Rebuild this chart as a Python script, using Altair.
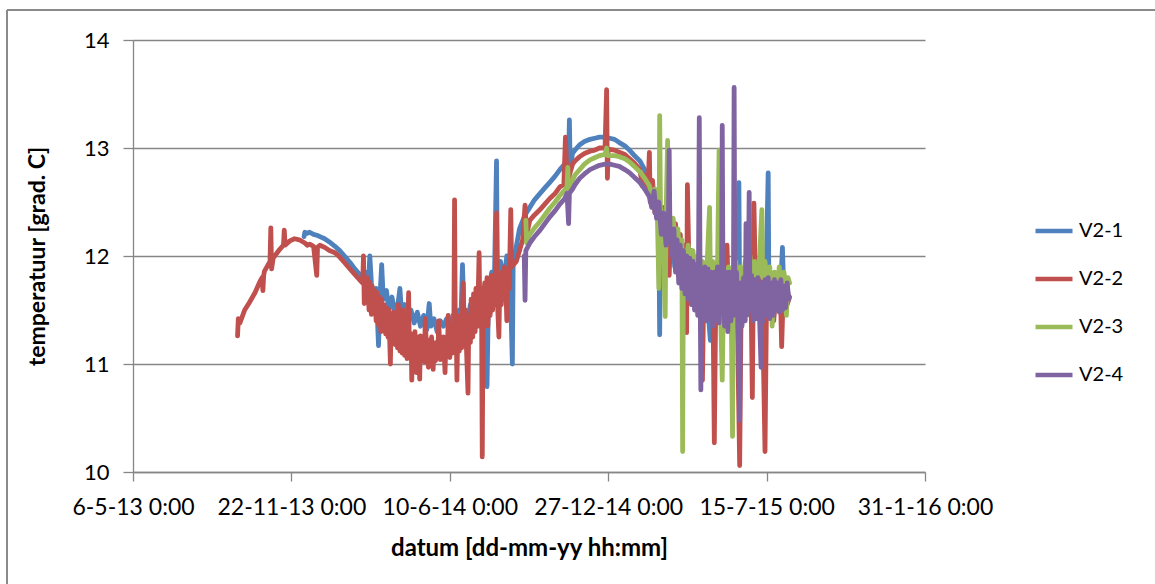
import altair as alt
import pandas as pd

# Temperature logger readings per monitoring well (date, temperature in deg C)
V2_1 = [
    ("2013-12-08", 12.18), ("2013-12-09", 12.22), ("2013-12-12", 12.21), ("2013-12-15", 12.22),
    ("2013-12-20", 12.20), ("2013-12-25", 12.19), ("2013-12-28", 12.18), ("2014-01-03", 12.16),
    ("2014-01-09", 12.13), ("2014-01-16", 12.09), ("2014-01-22", 12.05), ("2014-01-28", 12.00),
    ("2014-02-04", 11.94), ("2014-02-10", 11.88), ("2014-02-16", 11.83), ("2014-02-22", 11.80),
    ("2014-02-24", 11.85), ("2014-02-27", 11.70), ("2014-03-01", 12.00), ("2014-03-03", 11.75),
    ("2014-03-06", 11.55), ("2014-03-09", 11.70), ("2014-03-12", 11.17), ("2014-03-14", 11.65),
    ("2014-03-16", 11.92), ("2014-03-18", 11.60), ("2014-03-22", 11.68), ("2014-03-25", 11.50),
    ("2014-03-29", 11.62), ("2014-04-02", 11.45), ("2014-04-06", 11.58), ("2014-04-08", 11.70),
    ("2014-04-10", 11.48), ("2014-04-14", 11.55), ("2014-04-18", 11.40), ("2014-04-22", 11.50),
    ("2014-04-26", 11.38), ("2014-04-30", 11.48), ("2014-05-04", 11.35), ("2014-05-08", 11.45),
    ("2014-05-12", 11.32), ("2014-05-15", 11.56), ("2014-05-17", 11.35), ("2014-05-21", 11.42),
    ("2014-05-25", 11.30), ("2014-05-29", 11.40), ("2014-06-02", 11.35), ("2014-06-06", 11.42),
    ("2014-06-10", 11.30), ("2014-06-14", 11.45), ("2014-06-18", 11.35), ("2014-06-22", 11.50),
    ("2014-06-24", 11.40), ("2014-06-26", 11.92), ("2014-06-28", 11.45), ("2014-07-02", 11.35),
    ("2014-07-06", 11.55), ("2014-07-10", 11.40), ("2014-07-14", 11.65), ("2014-07-18", 11.50),
    ("2014-07-24", 11.60), ("2014-07-27", 10.79), ("2014-07-29", 11.70), ("2014-08-02", 11.85),
    ("2014-08-05", 11.65), ("2014-08-08", 12.88), ("2014-08-09", 11.80), ("2014-08-13", 11.95),
    ("2014-08-17", 11.75), ("2014-08-21", 12.00), ("2014-08-25", 11.85), ("2014-08-28", 11.00),
    ("2014-08-29", 11.95), ("2014-09-01", 12.05), ("2014-09-06", 12.25), ("2014-09-13", 12.38),
    ("2014-09-19", 12.45), ("2014-09-25", 12.52), ("2014-10-02", 12.58), ("2014-10-08", 12.63),
    ("2014-10-14", 12.68), ("2014-10-21", 12.74), ("2014-10-27", 12.80), ("2014-11-02", 12.85),
    ("2014-11-07", 12.90), ("2014-11-08", 13.26), ("2014-11-09", 12.82), ("2014-11-12", 12.95),
    ("2014-11-15", 12.98), ("2014-11-21", 13.03), ("2014-11-27", 13.06), ("2014-12-04", 13.08),
    ("2014-12-10", 13.09), ("2014-12-16", 13.10), ("2014-12-23", 13.10), ("2014-12-29", 13.09),
    ("2015-01-04", 13.08), ("2015-01-10", 13.05), ("2015-01-17", 13.02), ("2015-01-23", 12.98),
    ("2015-01-29", 12.93), ("2015-02-05", 12.88), ("2015-02-11", 12.80), ("2015-02-14", 12.70),
    ("2015-02-17", 12.55), ("2015-02-20", 12.65), ("2015-02-24", 12.40), ("2015-02-27", 12.55),
    ("2015-03-01", 12.20), ("2015-03-02", 11.27), ("2015-03-03", 12.30), ("2015-03-06", 12.45),
    ("2015-03-09", 12.15), ("2015-03-12", 12.35), ("2015-03-15", 12.00), ("2015-03-18", 12.25),
    ("2015-03-21", 11.90), ("2015-03-24", 12.15), ("2015-03-27", 11.85), ("2015-03-30", 12.10),
    ("2015-04-02", 11.80), ("2015-04-05", 12.05), ("2015-04-08", 11.70), ("2015-04-11", 11.95),
    ("2015-04-14", 11.65), ("2015-04-17", 11.90), ("2015-04-20", 11.60), ("2015-04-23", 11.85),
    ("2015-04-26", 11.55), ("2015-04-29", 11.80), ("2015-05-02", 11.50), ("2015-05-05", 11.22),
    ("2015-05-08", 11.45), ("2015-05-11", 11.70), ("2015-05-14", 11.40), ("2015-05-17", 11.70),
    ("2015-05-20", 11.50), ("2015-05-23", 11.75), ("2015-05-26", 11.40), ("2015-05-29", 11.70),
    ("2015-06-01", 11.45), ("2015-06-04", 11.70), ("2015-06-07", 11.50), ("2015-06-10", 12.68),
    ("2015-06-11", 11.55), ("2015-06-14", 11.75), ("2015-06-17", 11.45), ("2015-06-20", 11.70),
    ("2015-06-23", 11.50), ("2015-06-26", 11.75), ("2015-06-29", 11.45), ("2015-07-02", 11.70),
    ("2015-07-05", 11.55), ("2015-07-08", 11.75), ("2015-07-09", 10.97), ("2015-07-11", 11.50),
    ("2015-07-14", 11.70), ("2015-07-17", 12.77), ("2015-07-18", 11.55), ("2015-07-21", 11.70),
    ("2015-07-24", 11.45), ("2015-07-27", 11.65), ("2015-07-30", 11.55), ("2015-08-02", 11.75),
    ("2015-08-04", 12.08), ("2015-08-06", 11.60), ("2015-08-09", 11.75), ("2015-08-12", 11.60),
]

V2_2 = [
    ("2013-09-15", 11.26), ("2013-09-16", 11.42), ("2013-09-18", 11.38), ("2013-09-24", 11.50),
    ("2013-09-30", 11.57), ("2013-10-07", 11.66), ("2013-10-13", 11.76), ("2013-10-16", 11.80),
    ("2013-10-17", 11.68), ("2013-10-18", 11.82), ("2013-10-19", 11.86), ("2013-10-26", 11.95),
    ("2013-10-27", 12.26), ("2013-10-28", 11.88), ("2013-10-30", 11.98), ("2013-11-07", 12.06),
    ("2013-11-12", 12.10), ("2013-11-13", 12.24), ("2013-11-14", 12.10), ("2013-11-20", 12.14),
    ("2013-11-26", 12.16), ("2013-12-02", 12.15), ("2013-12-09", 12.12), ("2013-12-12", 12.10),
    ("2013-12-15", 12.11), ("2013-12-20", 12.09), ("2013-12-24", 11.82), ("2013-12-25", 12.08),
    ("2013-12-28", 12.10), ("2014-01-03", 12.08), ("2014-01-09", 12.05), ("2014-01-16", 12.03),
    ("2014-01-22", 11.99), ("2014-01-28", 11.94), ("2014-02-04", 11.88), ("2014-02-10", 11.83),
    ("2014-02-16", 11.78), ("2014-02-20", 11.75), ("2014-02-21", 12.00), ("2014-02-22", 11.56),
    ("2014-02-23", 11.78), ("2014-02-25", 11.60), ("2014-02-26", 11.80), ("2014-02-28", 11.50),
    ("2014-03-01", 11.76), ("2014-03-03", 11.46), ("2014-03-04", 11.72), ("2014-03-06", 11.50),
    ("2014-03-07", 11.68), ("2014-03-09", 11.40), ("2014-03-10", 11.66), ("2014-03-12", 11.36),
    ("2014-03-13", 11.62), ("2014-03-15", 11.30), ("2014-03-16", 11.60), ("2014-03-18", 11.32),
    ("2014-03-19", 11.55), ("2014-03-21", 11.28), ("2014-03-22", 11.52), ("2014-03-24", 11.25),
    ("2014-03-25", 11.50), ("2014-03-27", 11.00), ("2014-03-28", 11.46), ("2014-03-30", 11.22),
    ("2014-03-31", 11.48), ("2014-04-02", 11.18), ("2014-04-03", 11.42), ("2014-04-05", 11.15),
    ("2014-04-06", 11.55), ("2014-04-08", 11.12), ("2014-04-09", 11.38), ("2014-04-11", 11.10),
    ("2014-04-12", 11.50), ("2014-04-14", 11.08), ("2014-04-15", 11.32), ("2014-04-17", 11.05),
    ("2014-04-18", 11.30), ("2014-04-19", 11.66), ("2014-04-20", 11.10), ("2014-04-22", 11.28),
    ("2014-04-23", 10.85), ("2014-04-24", 11.26), ("2014-04-26", 11.05), ("2014-04-27", 11.30),
    ("2014-04-29", 10.92), ("2014-04-30", 11.25), ("2014-05-02", 11.02), ("2014-05-03", 10.86),
    ("2014-05-04", 11.26), ("2014-05-06", 11.04), ("2014-05-07", 11.22), ("2014-05-09", 11.02),
    ("2014-05-10", 11.42), ("2014-05-12", 11.05), ("2014-05-13", 11.20), ("2014-05-14", 10.97),
    ("2014-05-15", 11.22), ("2014-05-17", 11.04), ("2014-05-18", 11.25), ("2014-05-20", 10.95),
    ("2014-05-21", 11.18), ("2014-05-23", 11.03), ("2014-05-24", 11.20), ("2014-05-26", 11.06),
    ("2014-05-27", 11.40), ("2014-05-29", 11.04), ("2014-05-30", 11.18), ("2014-06-01", 11.06),
    ("2014-06-02", 11.25), ("2014-06-04", 10.92), ("2014-06-05", 11.22), ("2014-06-07", 11.08),
    ("2014-06-08", 11.45), ("2014-06-10", 11.06), ("2014-06-11", 11.30), ("2014-06-13", 11.10),
    ("2014-06-14", 11.35), ("2014-06-15", 11.15), ("2014-06-16", 12.52), ("2014-06-17", 11.20),
    ("2014-06-18", 11.40), ("2014-06-19", 10.85), ("2014-06-20", 11.30), ("2014-06-22", 11.12),
    ("2014-06-23", 11.45), ("2014-06-25", 11.15), ("2014-06-26", 11.50), ("2014-06-27", 11.75),
    ("2014-06-28", 11.20), ("2014-06-30", 11.50), ("2014-07-01", 11.15), ("2014-07-03", 10.73),
    ("2014-07-04", 11.45), ("2014-07-06", 11.20), ("2014-07-07", 11.60), ("2014-07-09", 11.25),
    ("2014-07-10", 11.65), ("2014-07-12", 11.30), ("2014-07-13", 11.70), ("2014-07-15", 11.35),
    ("2014-07-17", 12.03), ("2014-07-18", 11.45), ("2014-07-20", 11.70), ("2014-07-21", 10.14),
    ("2014-07-22", 11.45), ("2014-07-24", 11.75), ("2014-07-25", 11.40), ("2014-07-27", 11.80),
    ("2014-07-28", 11.35), ("2014-07-30", 11.70), ("2014-07-31", 11.45), ("2014-08-02", 11.82),
    ("2014-08-03", 11.50), ("2014-08-05", 11.78), ("2014-08-06", 11.55), ("2014-08-08", 12.40),
    ("2014-08-09", 11.60), ("2014-08-11", 11.25), ("2014-08-12", 11.70), ("2014-08-14", 11.55),
    ("2014-08-15", 11.85), ("2014-08-17", 11.60), ("2014-08-18", 11.90), ("2014-08-20", 11.65),
    ("2014-08-21", 11.40), ("2014-08-22", 11.85), ("2014-08-24", 11.70), ("2014-08-26", 12.43),
    ("2014-08-27", 11.90), ("2014-09-02", 11.95), ("2014-09-06", 12.05), ("2014-09-10", 12.15),
    ("2014-09-13", 12.47), ("2014-09-15", 12.20), ("2014-09-19", 12.33), ("2014-09-25", 12.38),
    ("2014-10-02", 12.43), ("2014-10-08", 12.48), ("2014-10-14", 12.53), ("2014-10-21", 12.58),
    ("2014-10-27", 12.64), ("2014-11-01", 12.66), ("2014-11-03", 13.10), ("2014-11-06", 12.55),
    ("2014-11-08", 12.75), ("2014-11-12", 12.85), ("2014-11-15", 12.88), ("2014-11-21", 12.92),
    ("2014-11-27", 12.95), ("2014-12-04", 12.97), ("2014-12-10", 12.98), ("2014-12-16", 13.00),
    ("2014-12-23", 13.00), ("2014-12-25", 13.54), ("2014-12-26", 12.72), ("2014-12-27", 12.99),
    ("2015-01-04", 12.98), ("2015-01-10", 12.96), ("2015-01-17", 12.94), ("2015-01-23", 12.90),
    ("2015-01-29", 12.86), ("2015-02-05", 12.80), ("2015-02-08", 12.65), ("2015-02-11", 12.75),
    ("2015-02-15", 12.58), ("2015-02-17", 12.96), ("2015-02-18", 12.50), ("2015-02-21", 12.70),
    ("2015-02-24", 12.40), ("2015-02-27", 12.55), ("2015-03-02", 12.25), ("2015-03-05", 12.45),
    ("2015-03-08", 12.10), ("2015-03-11", 12.35), ("2015-03-14", 11.82), ("2015-03-16", 12.25),
    ("2015-03-19", 12.05), ("2015-03-22", 12.30), ("2015-03-25", 11.95), ("2015-03-28", 12.20),
    ("2015-03-31", 11.80), ("2015-04-02", 12.10), ("2015-04-05", 11.29), ("2015-04-06", 12.66),
    ("2015-04-08", 11.90), ("2015-04-11", 12.05), ("2015-04-14", 11.75), ("2015-04-17", 11.95),
    ("2015-04-20", 11.60), ("2015-04-23", 11.90), ("2015-04-25", 10.85), ("2015-04-27", 11.85),
    ("2015-04-30", 11.60), ("2015-05-03", 11.95), ("2015-05-06", 11.50), ("2015-05-08", 11.80),
    ("2015-05-10", 10.27), ("2015-05-12", 11.75), ("2015-05-15", 11.50), ("2015-05-18", 11.85),
    ("2015-05-21", 11.40), ("2015-05-24", 11.70), ("2015-05-26", 12.10), ("2015-05-28", 11.55),
    ("2015-05-31", 11.80), ("2015-06-03", 11.35), ("2015-06-06", 11.75), ("2015-06-08", 11.45),
    ("2015-06-11", 10.06), ("2015-06-13", 11.70), ("2015-06-16", 11.50), ("2015-06-19", 11.80),
    ("2015-06-22", 11.60), ("2015-06-25", 11.85), ("2015-06-27", 10.69), ("2015-06-29", 12.49),
    ("2015-07-01", 11.70), ("2015-07-04", 11.55), ("2015-07-07", 11.80), ("2015-07-10", 11.45),
    ("2015-07-13", 10.19), ("2015-07-15", 11.65), ("2015-07-18", 11.50), ("2015-07-21", 11.75),
    ("2015-07-24", 11.40), ("2015-07-27", 11.70), ("2015-07-30", 11.60), ("2015-08-01", 11.80),
    ("2015-08-03", 11.16), ("2015-08-05", 11.65), ("2015-08-08", 11.80), ("2015-08-10", 11.55),
    ("2015-08-13", 11.62),
]

V2_3 = [
    ("2014-09-14", 12.33), ("2014-09-15", 12.12), ("2014-09-19", 12.20), ("2014-09-25", 12.26),
    ("2014-10-02", 12.32), ("2014-10-08", 12.38), ("2014-10-14", 12.44), ("2014-10-21", 12.50),
    ("2014-10-27", 12.56), ("2014-11-02", 12.61), ("2014-11-05", 12.64), ("2014-11-06", 12.82),
    ("2014-11-07", 12.60), ("2014-11-12", 12.70), ("2014-11-15", 12.75), ("2014-11-21", 12.80),
    ("2014-11-27", 12.85), ("2014-12-04", 12.89), ("2014-12-10", 12.91), ("2014-12-16", 12.93),
    ("2014-12-23", 12.94), ("2014-12-25", 13.00), ("2014-12-26", 12.93), ("2015-01-04", 12.93),
    ("2015-01-10", 12.92), ("2015-01-17", 12.90), ("2015-01-23", 12.87), ("2015-01-29", 12.83),
    ("2015-02-05", 12.78), ("2015-02-11", 12.72), ("2015-02-17", 12.65), ("2015-02-20", 12.55),
    ("2015-02-24", 12.62), ("2015-02-27", 12.40), ("2015-03-01", 11.70), ("2015-03-02", 13.30),
    ("2015-03-03", 12.45), ("2015-03-06", 12.30), ("2015-03-09", 11.44), ("2015-03-10", 12.35),
    ("2015-03-12", 13.07), ("2015-03-13", 12.30), ("2015-03-16", 12.15), ("2015-03-19", 12.35),
    ("2015-03-22", 12.05), ("2015-03-25", 12.25), ("2015-03-28", 11.95), ("2015-03-30", 12.15),
    ("2015-03-31", 10.19), ("2015-04-01", 12.05), ("2015-04-04", 11.90), ("2015-04-07", 12.10),
    ("2015-04-10", 11.85), ("2015-04-13", 12.05), ("2015-04-16", 11.80), ("2015-04-19", 12.00),
    ("2015-04-22", 11.75), ("2015-04-25", 11.95), ("2015-04-28", 11.70), ("2015-05-01", 11.95),
    ("2015-05-04", 12.45), ("2015-05-05", 11.80), ("2015-05-08", 11.95), ("2015-05-11", 11.70),
    ("2015-05-14", 11.90), ("2015-05-16", 12.98), ("2015-05-17", 11.75), ("2015-05-20", 10.85),
    ("2015-05-22", 11.85), ("2015-05-25", 11.65), ("2015-05-28", 11.90), ("2015-05-31", 11.70),
    ("2015-06-02", 10.33), ("2015-06-03", 11.80), ("2015-06-06", 11.95), ("2015-06-09", 11.65),
    ("2015-06-12", 11.90), ("2015-06-15", 11.70), ("2015-06-18", 11.95), ("2015-06-21", 11.75),
    ("2015-06-24", 12.00), ("2015-06-27", 11.70), ("2015-06-30", 11.95), ("2015-07-03", 11.75),
    ("2015-07-06", 11.95), ("2015-07-09", 12.43), ("2015-07-10", 11.80), ("2015-07-13", 11.95),
    ("2015-07-16", 11.70), ("2015-07-19", 11.90), ("2015-07-22", 11.35), ("2015-07-25", 11.85),
    ("2015-07-28", 11.65), ("2015-07-31", 11.90), ("2015-08-03", 11.55), ("2015-08-06", 11.85),
    ("2015-08-09", 11.45), ("2015-08-11", 11.80), ("2015-08-13", 11.75),
]

V2_4 = [
    ("2014-09-12", 12.00), ("2014-09-13", 11.59), ("2014-09-14", 12.05), ("2014-09-19", 12.12),
    ("2014-09-25", 12.18), ("2014-10-02", 12.24), ("2014-10-08", 12.30), ("2014-10-14", 12.36),
    ("2014-10-21", 12.42), ("2014-10-27", 12.48), ("2014-11-02", 12.53), ("2014-11-05", 12.58),
    ("2014-11-07", 12.30), ("2014-11-08", 12.58), ("2014-11-12", 12.62), ("2014-11-15", 12.66),
    ("2014-11-21", 12.72), ("2014-11-27", 12.76), ("2014-12-04", 12.80), ("2014-12-10", 12.82),
    ("2014-12-16", 12.84), ("2014-12-23", 12.85), ("2014-12-29", 12.85), ("2015-01-04", 12.84),
    ("2015-01-10", 12.83), ("2015-01-17", 12.80), ("2015-01-23", 12.77), ("2015-01-29", 12.73),
    ("2015-02-05", 12.68), ("2015-02-11", 12.62), ("2015-02-17", 12.55), ("2015-02-20", 12.45),
    ("2015-02-23", 12.60), ("2015-02-26", 12.35), ("2015-03-01", 12.50), ("2015-03-04", 12.20),
    ("2015-03-07", 12.40), ("2015-03-10", 12.10), ("2015-03-13", 12.30), ("2015-03-14", 12.98),
    ("2015-03-15", 12.20), ("2015-03-18", 12.00), ("2015-03-20", 12.25), ("2015-03-22", 11.85),
    ("2015-03-24", 12.15), ("2015-03-26", 11.75), ("2015-03-28", 12.10), ("2015-03-30", 11.70),
    ("2015-04-01", 12.05), ("2015-04-03", 11.65), ("2015-04-05", 12.00), ("2015-04-07", 11.60),
    ("2015-04-09", 11.98), ("2015-04-11", 11.55), ("2015-04-13", 11.95), ("2015-04-15", 11.50),
    ("2015-04-17", 11.92), ("2015-04-19", 11.45), ("2015-04-20", 11.90), ("2015-04-21", 13.28),
    ("2015-04-22", 11.80), ("2015-04-23", 10.76), ("2015-04-24", 11.85), ("2015-04-26", 11.45),
    ("2015-04-28", 11.90), ("2015-04-30", 11.40), ("2015-05-02", 11.88), ("2015-05-04", 11.42),
    ("2015-05-06", 11.85), ("2015-05-08", 11.35), ("2015-05-10", 11.85), ("2015-05-12", 11.40),
    ("2015-05-14", 11.90), ("2015-05-16", 11.38), ("2015-05-18", 11.88), ("2015-05-19", 11.50),
    ("2015-05-20", 13.21), ("2015-05-21", 11.70), ("2015-05-23", 11.35), ("2015-05-25", 11.85),
    ("2015-05-27", 11.30), ("2015-05-29", 11.85), ("2015-05-31", 11.40), ("2015-06-02", 11.80),
    ("2015-06-03", 11.45), ("2015-06-04", 13.56), ("2015-06-05", 11.55), ("2015-06-07", 11.85),
    ("2015-06-09", 11.40), ("2015-06-11", 10.48), ("2015-06-12", 11.75), ("2015-06-14", 11.35),
    ("2015-06-16", 11.80), ("2015-06-18", 11.40), ("2015-06-19", 12.30), ("2015-06-20", 11.45),
    ("2015-06-22", 11.80), ("2015-06-23", 12.59), ("2015-06-24", 11.50), ("2015-06-26", 11.82),
    ("2015-06-28", 11.40), ("2015-06-30", 11.78), ("2015-07-02", 11.42), ("2015-07-04", 11.80),
    ("2015-07-06", 11.45), ("2015-07-08", 10.97), ("2015-07-09", 11.75), ("2015-07-11", 11.40),
    ("2015-07-13", 11.78), ("2015-07-15", 11.45), ("2015-07-17", 11.80), ("2015-07-19", 11.42),
    ("2015-07-21", 11.75), ("2015-07-23", 11.45), ("2015-07-25", 11.78), ("2015-07-27", 11.50),
    ("2015-07-29", 11.75), ("2015-07-31", 11.48), ("2015-08-02", 11.78), ("2015-08-04", 11.50),
    ("2015-08-06", 11.72), ("2015-08-08", 11.52), ("2015-08-10", 11.75), ("2015-08-12", 11.60),
]

SERIES_NAMES = ["V2-1", "V2-2", "V2-3", "V2-4"]
SERIES_COLORS = ["#4F81BD", "#C0504D", "#9BBB59", "#8064A2"]
Y_TICKS = [10, 11, 12, 13, 14]
X_TICKS = [(2013, 5, 6), (2013, 11, 22), (2014, 6, 10), (2014, 12, 27), (2015, 7, 15), (2016, 1, 31)]

rows = []
for name, series in zip(SERIES_NAMES, [V2_1, V2_2, V2_3, V2_4]):
    for d, v in series:
        rows.append({"datum": d, "temperatuur": v, "reeks": name})
df = pd.DataFrame(rows)

FONT = "Lato"
GRID = "#868686"

x_dates = [alt.DateTime(year=y, month=m, date=d, utc=True) for y, m, d in X_TICKS]

x_enc = alt.X(
    "datum:T",
    scale=alt.Scale(type="utc", domain=[x_dates[0], x_dates[-1]], nice=False),
    axis=alt.Axis(
        values=x_dates,
        labelExpr="utcFormat(datum.value, '%-d-%-m-%y %-H:%M')",
        title="datum [dd-mm-yy hh:mm]", grid=False,
        labelFont=FONT, labelFontSize=23, labelColor="#000", labelPadding=15,
        labelFlush=False, labelOverlap=False,
        tickSize=9, tickColor=GRID, tickWidth=1.3, domainColor=GRID, domainWidth=1.3,
        titleFont=FONT, titleFontSize=24, titleFontWeight="bold", titleColor="#000",
        titlePadding=17,
    ),
)
y_enc = alt.Y(
    "temperatuur:Q",
    scale=alt.Scale(domain=[10, 14], nice=False, zero=False),
    axis=alt.Axis(
        values=Y_TICKS, title="temperatuur [grad. C]", grid=True,
        gridColor=GRID, gridWidth=1.3,
        labelFont=FONT, labelFontSize=22, labelColor="#000", labelPadding=14,
        tickSize=10, tickColor=GRID, tickWidth=1.3, domainColor=GRID, domainWidth=1.3,
        titleFont=FONT, titleFontSize=23, titleFontWeight="bold", titleColor="#000",
        titlePadding=34,
    ),
)
color_enc = alt.Color(
    "reeks:N",
    scale=alt.Scale(domain=SERIES_NAMES, range=SERIES_COLORS),
    legend=alt.Legend(
        title=None, orient="none", legendX=900, legendY=170,
        symbolType="stroke", symbolSize=1369, symbolStrokeWidth=4.5,
        labelFont=FONT, labelFontSize=20, labelColor="#000", labelOffset=4,
        rowPadding=17,
    ),
)

# one layer per series so later series are drawn on top
layers = []
for name in SERIES_NAMES:
    layers.append(
        alt.Chart(df)
        .transform_filter(alt.datum.reeks == name)
        .mark_line(strokeWidth=4.8, strokeJoin="round", strokeCap="round")
        .encode(x=x_enc, y=y_enc, color=color_enc)
    )

# outer chart border (left and top edges)
frame = alt.Chart(alt.Data(values=[{}]))
border_left = frame.mark_rule(color="#8a8a8a", strokeWidth=2).encode(
    x=alt.value(-126), y=alt.value(-30), y2=alt.value(560)
)
border_top = frame.mark_rule(color="#8a8a8a", strokeWidth=2).encode(
    x=alt.value(-126), x2=alt.value(1040), y=alt.value(-30)
)

chart = (
    alt.layer(*layers, border_left, border_top)
    .properties(
        width=792, height=432,
        autosize=alt.AutoSizeParams(type="none"),
        padding={"left": 133, "top": 40, "right": 230, "bottom": 112},
        background="white",
    )
    .configure_view(stroke=None)
)

chart.save("out.html", embed_options={"renderer": "svg", "actions": False})
